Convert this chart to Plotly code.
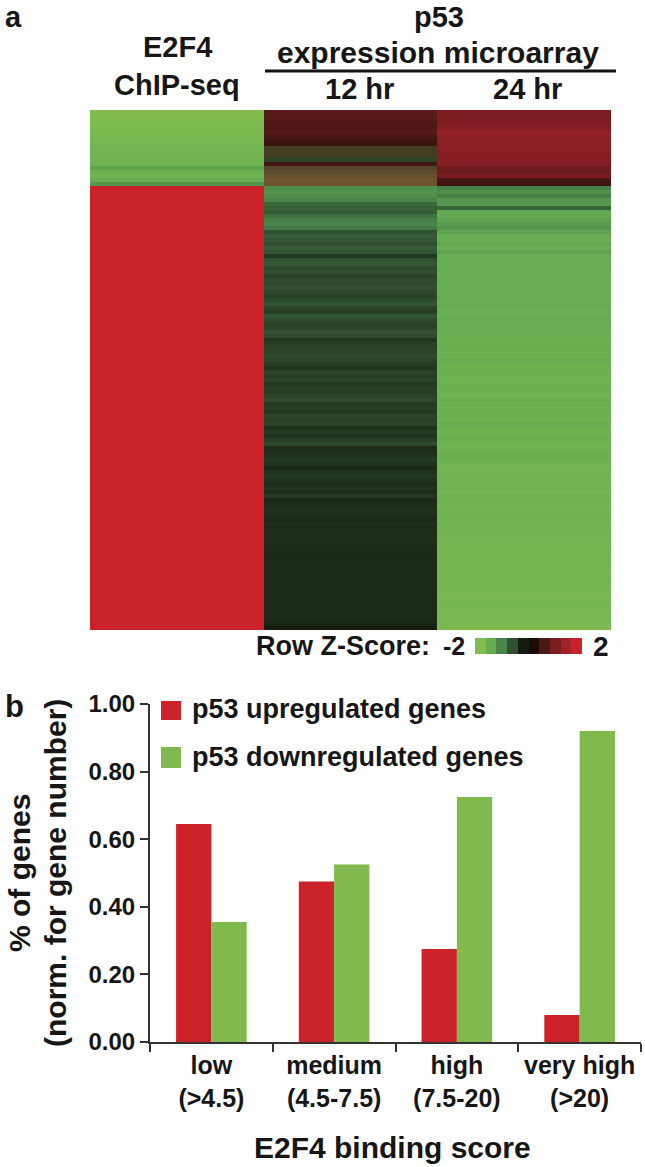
import plotly.graph_objects as go

# ---------- data: panel a (row Z-scores, top to bottom, 4 px rows) ----------
columns = ["E2F4 ChIP-seq", "12 hr", "24 hr"]
e2f4_top = [-2.0,-2.0,-2.0,-1.95,-1.95,-1.9,-1.9,-1.85,-1.85,-1.8,-1.8,-1.8,-1.8,-1.75,-1.45,-1.7,-1.75,-1.6,-1.3]
e2f4_bottom = [2.0]*111
h12_top = [.8,.75,.75,.7,.7,.75,.65,.55,.5,2.1,2.1,2.1,-.55,.6,2.25,2.3,2.35,2.4,2.4]
h12_bottom = [-1.2,-1.25,-1.2,-1.1,-.85,-.8,-.75,-.95,-1.05,-1.1,-1.0,-.65,-.75,-.7,-.65,-.75,-.7,-.45,-.65,-.7,
 -.6,-.65,-.55,-.6,-.6,-.65,-.6,-.55,-.6,-.7,-.55,-.5,-.7,-.6,-.55,-.55,
 -.65,-.6,-.42,-.5,-.55,-.55,-.6,-.55,-.48,-.42,-.55,-.5,-.55,-.45,-.5,-.5,-.55,-.6,-.45,-.5,-.45,-.55,-.5,-.55,
 -.38,-.45,-.4,-.5,-.6,-.36,-.36,-.4,-.45,-.4,-.33,-.4,-.45,-.4,
 -.36,-.4,-.36,-.45,-.32,-.36,-.36,-.4,-.34,-.32,-.36,-.34,-.36,-.34,-.36,-.36,-.34,-.34,-.3,-.32,-.34,-.32,-.33,-.32,-.32,-.34,
 -.32,-.34,-.32,-.33,-.32,-.34,-.32,-.33,-.32,-.28,-.2]
h24_top = [1.1,1.1,1.1,1.15,1.2,1.4,1.35,1.3,1.3,1.3,1.25,1.3,1.25,1.2,1.0,.95,1.1,.6,.55]
h24_bottom = [-1.05,-1.2,-1.05,-1.3,-1.3,-.8,-1.5,-1.5,-1.45,-1.35,-1.3,-1.45,-1.55,-1.6,-1.5,-1.6,-1.45,-1.55,-1.6,-1.6,
 -1.55,-1.6,-1.62,-1.6,-1.65,-1.6,-1.6,-1.62,-1.65,-1.55,-1.6,-1.65,-1.6,-1.55,-1.6,-1.62,
 -1.6,-1.65,-1.7,-1.65,-1.6,-1.7,-1.65,-1.6,-1.68,-1.72,-1.68,-1.7,-1.72,-1.7,-1.65,-1.7,-1.72,-1.6,-1.68,-1.7,-1.65,-1.7,-1.72,-1.58,
 -1.7,-1.74,-1.7,-1.66,-1.72,-1.75,-1.7,-1.62,-1.7,-1.76,-1.82,-1.78,-1.74,-1.76,
 -1.76,-1.72,-1.78,-1.75,-1.72,-1.78,-1.8,-1.75,-1.72,-1.78,-1.74,-1.8,-1.78,-1.8,-1.78,-1.82,-1.8,-1.82,-1.84,-1.8,-1.84,-1.82,-1.86,-1.84,-1.82,-1.86,
 -1.84,-1.86,-1.88,-1.84,-1.86,-1.88,-1.86,-1.88,-1.86,-1.9,-1.92]
assert all(len(v) == 111 for v in (e2f4_bottom, h12_bottom, h24_bottom))
assert all(len(v) == 19 for v in (e2f4_top, h12_top, h24_top))
e2f4 = e2f4_top + e2f4_bottom
h12 = h12_top + h12_bottom
h24 = h24_top + h24_bottom
key_values = [-2,-1.55,-1.1,-.65,-.2,.2,.65,1.1,1.55,2]

# ---------- data: panel b ----------
score_bins = ["low<br>(>4.5)", "medium<br>(4.5-7.5)", "high<br>(7.5-20)", "very high<br>(>20)"]
upregulated = [0.645, 0.475, 0.275, 0.08]
downregulated = [0.355, 0.525, 0.725, 0.92]
y_ticks = [0, 0.2, 0.4, 0.6, 0.8, 1.0]

# ---------- style ----------
W, H = 645, 1167
FONT = "Liberation Sans"
INK = "#161616"
RED, GREEN = "#cb2229", "#80b94e"
ZMIN, ZMAX = -2, 2.4
anchors = [(-2,"#80bc50"),(-1.55,"#64ad52"),(-1.1,"#4a8549"),(-.65,"#30502f"),(-.2,"#141c10"),(0,"#000000"),
           (.2,"#1e0a08"),(.65,"#4a1916"),(1.1,"#7c1c21"),(1.55,"#a02329"),(2,"#cb2229"),
           (2.05,"#3d3a20"),(2.25,"#56452a"),(2.4,"#6e5430")]  # last segment: blurred olive/brown rows of the 12 hr column
colorscale = [[(z-ZMIN)/(ZMAX-ZMIN), c] for z, c in anchors]

def dx(a, b): return [a/W, b/W]
def dy(top, bottom): return [1-bottom/H, 1-top/H]

fig = go.Figure()
fig.add_trace(go.Heatmap(z=[list(r) for r in zip(e2f4, h12, h24)], x=columns, y=list(range(130)),
                         colorscale=colorscale, zmin=ZMIN, zmax=ZMAX, showscale=False,
                         xaxis="x", yaxis="y", hoverinfo="z"))
fig.add_trace(go.Heatmap(z=[key_values], colorscale=colorscale, zmin=ZMIN, zmax=ZMAX, showscale=False,
                         xaxis="x2", yaxis="y2", hoverinfo="z"))
fig.add_trace(go.Bar(x=score_bins, y=upregulated, name="p53 upregulated genes", marker_color=RED,
                     marker_line_width=0, xaxis="x3", yaxis="y3"))
fig.add_trace(go.Bar(x=score_bins, y=downregulated, name="p53 downregulated genes", marker_color=GREEN,
                     marker_line_width=0, xaxis="x3", yaxis="y3"))

hidden = dict(visible=False, showgrid=False, zeroline=False)
fig.update_layout(
    width=W, height=H, margin=dict(l=0, r=0, t=0, b=0, autoexpand=False), autosize=False,
    paper_bgcolor="white", plot_bgcolor="white", showlegend=False,
    barmode="group", bargap=0.425, bargroupgap=0,
    font=dict(family=FONT, color=INK),
    xaxis=dict(domain=dx(90, 611), **hidden),
    yaxis=dict(domain=dy(110, 630), autorange="reversed", **hidden),
    xaxis2=dict(domain=dx(475, 582), anchor="y2", **hidden),
    yaxis2=dict(domain=dy(638, 654), anchor="x2", **hidden),
    xaxis3=dict(domain=dx(150, 641), anchor="y3", type="category", tickmode="array",
                tickvals=score_bins, ticktext=[f"<b>{s.replace('<br>', '</b><br><b>')}</b>" for s in score_bins],
                tickson="boundaries", ticks="outside", ticklen=8, tickwidth=2, tickcolor="#333333",
                tickangle=0, showline=True, linecolor="#333333", linewidth=2, showgrid=False, zeroline=False,
                tickfont=dict(size=25, family=FONT, color=INK)),
    yaxis3=dict(domain=dy(704, 1042), anchor="x3", range=[0, 1], tickmode="array", tickvals=y_ticks,
                ticktext=[f"<b>{v:.2f}</b>" for v in y_ticks],
                ticks="outside", ticklen=8, tickwidth=2, tickcolor="#333333",
                showline=True, linecolor="#333333", linewidth=2, showgrid=False, zeroline=False,
                tickfont=dict(size=24, family=FONT, color=INK)),
)

def label(text, x, y, size=23, xanchor="center", angle=0):
    fig.add_annotation(text=f"<b>{text}</b>", x=x/W, y=1-y/H, xref="paper", yref="paper", showarrow=False,
                       xanchor=xanchor, yanchor="middle", textangle=angle,
                       font=dict(size=size, family=FONT, color=INK))

label("a", 3, 17, 29, "left")
label("b", 3, 706, 31, "left")
label("E2F4", 177, 47, 29)
label("ChIP-seq", 177, 85, 29)
label("p53", 439, 17, 29)
label("expression microarray", 438, 52, 30)
label("12 hr", 359, 89, 29)
label("24 hr", 527, 89, 29)
label("Row Z-Score:", 254, 646, 27, "left")
label("-2", 441, 646, 25, "left")
label("2", 591, 646, 28, "left")
label("p53 upregulated genes", 190, 709, 27, "left")
label("p53 downregulated genes", 190, 757, 27, "left")
label("% of genes", 19, 873, 30, angle=-90)
label("(norm. for gene number)", 55, 873, 30, angle=-90)
label("E2F4 binding score", 393, 1147, 30)

fig.add_shape(type="line", xref="paper", yref="paper", x0=265/W, x1=616/W, y0=1-71/H, y1=1-71/H,
              line=dict(color="#111111", width=3))
for top, bottom, color in [(701, 720, RED), (747, 768, GREEN)]:
    fig.add_shape(type="rect", xref="paper", yref="paper", x0=161/W, x1=181/W, y0=1-bottom/H, y1=1-top/H,
                  fillcolor=color, line_width=0)

fig.write_html("out.html", config={"displayModeBar": False},
               post_script="document.body.style.margin='0';document.documentElement.style.overflow='hidden';")
